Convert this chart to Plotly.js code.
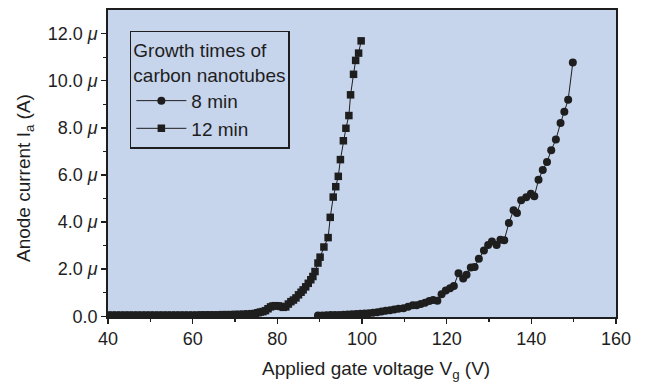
<!DOCTYPE html>
<html>
<head>
<meta charset="utf-8">
<script src="https://cdn.plot.ly/plotly-3.0.1.min.js"></script>
<style>html,body{margin:0;padding:0;background:#fff;}#chart{width:647px;height:387px;}</style>
</head>
<body>
<div id="chart"></div>
<script>
// Series: 12 min growth time (squares)
const v12 = [40,41,42,43,44,45,46,47,48,49,50,51,52,53,54,55,56,57,58,59,60,61,62,63,64,65,66,67,68,69,70,71,72,73,74,
  74.8,75.4,76.0,76.6,77.2,77.8,78.4,79.0,79.6,80.2,80.8,81.4,82.0,82.6,83.2,83.8,84.4,85.0,85.6,86.1,86.7,87.3,87.9,88.4,88.9,89.6,90.1,91.0,92.0,92.5,93.2,93.8,94.4,94.9,95.6,96.2,96.9,97.3,98.0,98.5,99.2,99.8];
const i12 = [0.05,0.05,0.05,0.05,0.05,0.05,0.05,0.05,0.05,0.05,0.05,0.05,0.05,0.05,0.05,0.05,0.05,0.05,0.05,0.05,0.05,0.05,0.06,0.06,0.06,0.06,0.06,0.07,0.07,0.07,0.08,0.08,0.09,0.10,0.11,
  0.12,0.15,0.18,0.20,0.24,0.32,0.40,0.44,0.45,0.44,0.42,0.38,0.40,0.52,0.62,0.69,0.78,0.91,1.02,1.12,1.25,1.40,1.55,1.69,1.90,2.26,2.51,2.94,3.34,4.20,5.06,5.50,5.94,6.65,7.45,7.98,8.52,9.40,10.27,10.86,11.17,11.69];

// Series: 8 min growth time (circles)
const v8 = [89.6,90.6,91.6,92.6,93.6,94.6,95.6,96.6,97.6,98.6,99.6,100.6,101.6,102.6,103.6,104.6,105.6,106.6,107.6,108.6,109.8,110.9,112.0,112.9,113.9,114.9,115.9,116.8,117.8,118.8,119.8,120.8,121.7,122.8,123.9,124.7,125.7,126.6,127.6,128.8,129.8,130.7,131.8,132.7,133.6,134.7,135.8,136.6,137.6,138.8,139.9,140.7,141.7,142.7,143.7,144.7,145.8,146.9,147.8,148.7,149.8];
const i8 = [0.03,0.03,0.04,0.05,0.05,0.06,0.07,0.08,0.09,0.10,0.11,0.12,0.13,0.15,0.17,0.20,0.23,0.26,0.29,0.32,0.34,0.41,0.47,0.47,0.52,0.58,0.65,0.69,0.66,0.94,1.09,1.19,1.29,1.83,1.60,1.76,2.07,2.09,2.44,2.79,3.03,3.17,3.03,3.25,3.23,3.96,4.50,4.38,4.92,5.05,5.20,5.09,5.79,6.21,6.55,7.05,7.50,8.20,8.68,9.19,10.77];

const xTicks = [40,60,80,100,120,140,160];
const yTickVals = [0,2,4,6,8,10,12];
const yTickText = ['0.0','2.0 <i>μ</i>','4.0 <i>μ</i>','6.0 <i>μ</i>','8.0 <i>μ</i>','10.0 <i>μ</i>','12.0 <i>μ</i>'];
const names = ['8 min','12 min'];

const ink = '#1e1e1e';
const traces = [
  {x: v8, y: i8, name: names[0], mode: 'lines+markers', type: 'scatter',
   line: {color: ink, width: 1}, marker: {symbol: 'circle', size: 8, color: ink, line: {width: 0}}},
  {x: v12, y: i12, name: names[1], mode: 'lines+markers', type: 'scatter',
   line: {color: ink, width: 1}, marker: {symbol: 'square', size: 7.5, color: ink, line: {width: 0}}}
];

const fontFam = '"Liberation Sans", Arial, sans-serif';
const layout = {
  width: 647, height: 387,
  margin: {l: 108, r: 31, t: 10, b: 70},
  paper_bgcolor: '#ffffff',
  plot_bgcolor: '#c6d4ec',
  font: {family: fontFam, size: 18, color: ink},
  showlegend: true,
  legend: {
    x: 0.043, y: 0.932, xanchor: 'left', yanchor: 'top',
    bgcolor: 'rgba(0,0,0,0)', bordercolor: ink, borderwidth: 1.5,
    itemwidth: 50,
    font: {family: fontFam, size: 19, color: ink},
    title: {text: 'Growth times of<br>carbon nanotubes', font: {family: fontFam, size: 19, color: ink}}
  },
  xaxis: {
    range: [40, 160], tickvals: xTicks, ticktext: xTicks.map(String),
    ticks: 'outside', ticklen: 5, tickwidth: 1.5, tickcolor: ink,
    minor: {dtick: 10, ticks: 'outside', ticklen: 3, tickwidth: 1.2, tickcolor: ink},
    showline: true, linecolor: ink, linewidth: 1.8, mirror: true,
    showgrid: false, zeroline: false,
    tickfont: {family: fontFam, size: 18, color: ink}
  },
  yaxis: {
    range: [-0.03, 13.0], tickvals: yTickVals, ticktext: yTickText,
    ticks: 'outside', ticklen: 5, tickwidth: 1.5, tickcolor: ink,
    minor: {tickvals: [1,3,5,7,9,11], ticks: 'outside', ticklen: 3, tickwidth: 1.2, tickcolor: ink},
    showline: true, linecolor: ink, linewidth: 1.8, mirror: true,
    showgrid: false, zeroline: false,
    tickfont: {family: fontFam, size: 18, color: ink}
  },
  annotations: [
    {text: 'Applied gate voltage V<sub>g</sub> (V)', xref: 'paper', yref: 'paper',
     x: (375.5-108)/508, y: -(370-317)/307, xanchor: 'center', yanchor: 'middle', showarrow: false,
     font: {family: fontFam, size: 19, color: ink}},
    {text: 'Anode current I<sub>a</sub> (A)', xref: 'paper', yref: 'paper', textangle: -90,
     x: -(108-25)/508, y: (317-178)/307, xanchor: 'center', yanchor: 'middle', showarrow: false,
     font: {family: fontFam, size: 19, color: ink}}
  ]
};

Plotly.newPlot('chart', traces, layout, {staticPlot: true, displayModeBar: false});
</script>
</body>
</html>
